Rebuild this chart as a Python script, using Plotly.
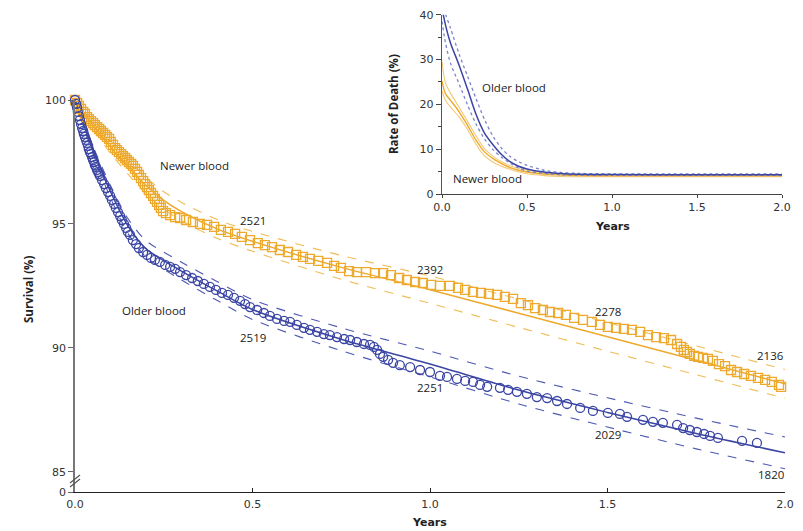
import plotly.graph_objects as go

# ---------------- Main chart: Kaplan-Meier survival ----------------
newer_km_years = [0, 0.006, 0.011, 0.017, 0.023, 0.028, 0.034, 0.039, 0.045, 0.051, 0.056, 0.062, 0.068, 0.073,
                  0.079, 0.085, 0.090, 0.096, 0.101, 0.107, 0.113, 0.118, 0.124, 0.130, 0.135, 0.141, 0.146, 0.152,
                  0.158, 0.163, 0.169, 0.175, 0.180, 0.186, 0.192, 0.197, 0.203, 0.208, 0.214, 0.220, 0.225, 0.231,
                  0.237, 0.242, 0.248, 0.256, 0.268, 0.282, 0.296, 0.313, 0.332, 0.352, 0.372, 0.392, 0.411, 0.431,
                  0.451, 0.470, 0.493, 0.515, 0.535, 0.555, 0.577, 0.600, 0.623, 0.642, 0.662, 0.685, 0.710, 0.730,
                  0.749, 0.772, 0.794, 0.820, 0.845, 0.868, 0.890, 0.913, 0.935, 0.958, 0.980, 1.003, 1.028, 1.056,
                  1.079, 1.099, 1.121, 1.144, 1.166, 1.189, 1.211, 1.234, 1.256, 1.276, 1.296, 1.318, 1.338, 1.361,
                  1.383, 1.406, 1.431, 1.456, 1.479, 1.501, 1.524, 1.546, 1.569, 1.592, 1.614, 1.637, 1.659, 1.679,
                  1.696, 1.707, 1.715, 1.724, 1.732, 1.744, 1.755, 1.769, 1.783, 1.797, 1.814, 1.831, 1.848, 1.865,
                  1.885, 1.904, 1.924, 1.944, 1.963, 1.983, 1.989]
newer_km_surv = [100, 99.88, 99.76, 99.64, 99.52, 99.44, 99.31, 99.23, 99.15, 99.07, 98.99, 98.91, 98.83, 98.75,
                 98.67, 98.59, 98.51, 98.43, 98.31, 98.19, 98.06, 97.98, 97.90, 97.82, 97.74, 97.66, 97.58, 97.50,
                 97.42, 97.34, 97.22, 97.10, 96.98, 96.85, 96.73, 96.61, 96.49, 96.37, 96.25, 96.13, 96.01, 95.89,
                 95.77, 95.65, 95.52, 95.44, 95.36, 95.28, 95.24, 95.16, 95.08, 95.00, 94.96, 94.88, 94.76, 94.68,
                 94.60, 94.48, 94.35, 94.23, 94.15, 94.07, 93.95, 93.87, 93.75, 93.67, 93.59, 93.51, 93.43, 93.31,
                 93.23, 93.10, 93.06, 93.06, 93.02, 93.02, 92.94, 92.82, 92.74, 92.66, 92.62, 92.54, 92.50, 92.50,
                 92.42, 92.34, 92.26, 92.22, 92.18, 92.14, 92.06, 91.98, 91.81, 91.73, 91.61, 91.53, 91.45, 91.41,
                 91.33, 91.21, 91.13, 91.05, 90.93, 90.85, 90.81, 90.77, 90.73, 90.65, 90.52, 90.44, 90.40, 90.32,
                 90.16, 90.04, 89.92, 89.84, 89.76, 89.68, 89.64, 89.60, 89.56, 89.48, 89.35, 89.27, 89.11, 89.03,
                 88.95, 88.87, 88.79, 88.71, 88.63, 88.51, 88.43]

older_km_years = [0, 0.003, 0.006, 0.008, 0.011, 0.014, 0.017, 0.020, 0.023, 0.025, 0.028, 0.031, 0.034, 0.037,
                  0.039, 0.042, 0.045, 0.048, 0.051, 0.054, 0.056, 0.059, 0.062, 0.065, 0.068, 0.070, 0.076, 0.082,
                  0.087, 0.093, 0.099, 0.104, 0.110, 0.115, 0.121, 0.127, 0.132, 0.138, 0.144, 0.149, 0.155, 0.163,
                  0.172, 0.180, 0.192, 0.203, 0.214, 0.225, 0.239, 0.254, 0.268, 0.282, 0.296, 0.313, 0.330, 0.346,
                  0.363, 0.380, 0.397, 0.414, 0.431, 0.448, 0.465, 0.479, 0.493, 0.513, 0.532, 0.549, 0.569, 0.589,
                  0.606, 0.625, 0.645, 0.662, 0.682, 0.701, 0.718, 0.738, 0.758, 0.775, 0.794, 0.814, 0.831, 0.842,
                  0.851, 0.859, 0.868, 0.882, 0.896, 0.915, 0.944, 0.972, 1.000, 1.028, 1.048, 1.076, 1.099, 1.121,
                  1.141, 1.161, 1.197, 1.220, 1.245, 1.273, 1.301, 1.330, 1.358, 1.386, 1.423, 1.459, 1.501, 1.535,
                  1.555, 1.600, 1.628, 1.656, 1.696, 1.713, 1.732, 1.752, 1.772, 1.789, 1.811, 1.879, 1.921]
older_km_surv = [100, 99.84, 99.68, 99.52, 99.35, 99.19, 99.03, 98.87, 98.75, 98.63, 98.51, 98.39, 98.27, 98.15,
                 98.02, 97.90, 97.82, 97.70, 97.58, 97.50, 97.38, 97.30, 97.18, 97.10, 97.02, 96.94, 96.77, 96.61,
                 96.45, 96.29, 96.13, 95.97, 95.81, 95.65, 95.48, 95.32, 95.16, 95.00, 94.84, 94.68, 94.56, 94.35,
                 94.19, 94.03, 93.87, 93.75, 93.63, 93.55, 93.47, 93.35, 93.27, 93.19, 93.06, 92.94, 92.82, 92.70,
                 92.58, 92.46, 92.34, 92.22, 92.14, 92.02, 91.90, 91.77, 91.65, 91.53, 91.41, 91.29, 91.17, 91.09,
                 91.05, 90.93, 90.81, 90.73, 90.65, 90.56, 90.52, 90.44, 90.36, 90.32, 90.24, 90.16, 90.12, 90.04,
                 89.92, 89.76, 89.64, 89.52, 89.40, 89.31, 89.23, 89.11, 89.03, 88.87, 88.83, 88.75, 88.67, 88.63,
                 88.51, 88.43, 88.39, 88.31, 88.23, 88.15, 88.02, 87.98, 87.86, 87.74, 87.58, 87.46, 87.38, 87.34,
                 87.22, 87.10, 87.02, 86.98, 86.90, 86.77, 86.69, 86.61, 86.53, 86.45, 86.37, 86.25, 86.17]

# Modelled survival with confidence bands
newer_fit_years = [0, 0.05, 0.1, 0.15, 0.2, 0.25, 0.3, 0.4, 0.5, 0.75, 1.0, 1.25, 1.5, 1.75, 2.0]
newer_fit = [100, 99.0, 98.1, 97.3, 96.55, 95.95, 95.5, 94.8, 94.3, 93.25, 92.35, 91.4, 90.45, 89.5, 88.55]
newer_fit_upper = [100, 99.15, 98.35, 97.6, 96.88, 96.3, 95.87, 95.18, 94.7, 93.73, 92.9, 91.97, 91.03, 90.08, 89.13]
newer_fit_lower = [100, 98.85, 97.85, 97.0, 96.22, 95.6, 95.13, 94.42, 93.9, 92.77, 91.8, 90.83, 89.87, 88.92, 87.97]

older_fit_years = [0, 0.05, 0.1, 0.15, 0.2, 0.3, 0.4, 0.5, 0.75, 1.0, 1.25, 1.5, 1.75, 2.0]
older_fit = [100, 98.0, 96.3, 94.9, 94.0, 93.1, 92.3, 91.55, 90.35, 89.35, 88.3, 87.4, 86.55, 85.77]
older_fit_upper = [100, 98.15, 96.55, 95.2, 94.33, 93.46, 92.68, 91.95, 90.81, 89.87, 88.86, 87.99, 87.17, 86.41]
older_fit_lower = [100, 97.85, 96.05, 94.6, 93.67, 92.74, 91.92, 91.15, 89.89, 88.83, 87.74, 86.81, 85.93, 85.13]

# Numbers at risk
risk_years = [0.5, 1.0, 1.5, 1.96]
newer_at_risk = ["2521", "2392", "2278", "2136"]
older_at_risk = ["2519", "2251", "2029", "1820"]
newer_risk_y = [95.16, 93.15, 91.45, 89.68]
older_risk_y = [90.44, 88.39, 86.49, 84.88]

main_x_ticks = [0, 0.5, 1.0, 1.5, 2.0]
main_x_ticktext = ["0.0", "0.5", "1.0", "1.5", "2.0"]
main_y_ticks = [84.19, 85, 90, 95, 100]
main_y_ticktext = ["0", "85", "90", "95", "100"]

# ---------------- Inset: rate of death ----------------
inset_years = [0, 0.02, 0.05, 0.1, 0.15, 0.2, 0.25, 0.3, 0.35, 0.4, 0.45, 0.5, 0.6, 0.7, 0.8, 1.0, 1.5, 2.0]
older_rate = [41.5, 37.8, 33.7, 28.8, 23.4, 17.8, 13.6, 11.0, 8.8, 7.2, 6.2, 5.6, 4.9, 4.55, 4.4, 4.35, 4.3, 4.3]
older_rate_upper = [44, 40.3, 37.0, 31.3, 26.3, 21.3, 16.6, 12.9, 10.2, 8.4, 7.2, 6.4, 5.3, 4.8, 4.6, 4.5, 4.5, 4.5]
older_rate_lower = [38.5, 33.8, 29.2, 24.6, 19.9, 15.6, 12.3, 9.9, 8.2, 6.9, 5.8, 5.1, 4.6, 4.3, 4.2, 4.15, 4.15, 4.15]
newer_rate = [25.2, 22.4, 20.9, 18.4, 15.3, 12.0, 9.4, 7.9, 6.8, 5.9, 5.3, 4.9, 4.45, 4.2, 4.1, 4.05, 4.05, 4.05]
newer_rate_upper = [29.5, 24.8, 22.5, 19.4, 16.2, 13.0, 10.1, 8.4, 7.2, 6.3, 5.7, 5.3, 4.8, 4.5, 4.35, 4.3, 4.3, 4.3]
newer_rate_lower = [23.0, 20.9, 19.4, 17.2, 14.4, 11.1, 8.5, 7.1, 6.2, 5.5, 4.9, 4.5, 4.1, 3.9, 3.85, 3.85, 3.85, 3.85]

ORANGE = "#EDAA2E"
ORANGE_D = "#F0BC55"
ORANGE_L = "#F3C875"
BLUE = "#3B45A3"
BLUE_D = "#4D58B3"
BLUE_L = "#7A84C8"

TICK_FONT = dict(family="DejaVu Sans", size=11, color="#333")
LBL_FONT = "Open Sans"
NARROW = "Liberation Sans Narrow, Open Sans"

fig = go.Figure()

def line(x, y, color, dash="solid", width=1.2, xa="x", ya="y"):
    fig.add_trace(go.Scatter(x=x, y=y, mode="lines", xaxis=xa, yaxis=ya,
                             line=dict(color=color, width=width, dash=dash, shape="spline", smoothing=0.8),
                             hoverinfo="skip"))

# main fits
line(newer_fit_years, newer_fit_upper, ORANGE_D, dash="dash", width=1.1)
line(newer_fit_years, newer_fit_lower, ORANGE_D, dash="dash", width=1.1)
line(newer_fit_years, newer_fit, ORANGE, width=1.5)
line(older_fit_years, older_fit_upper, BLUE_D, dash="dash", width=1.1)
line(older_fit_years, older_fit_lower, BLUE_D, dash="dash", width=1.1)
line(older_fit_years, older_fit, BLUE, width=1.5)

# KM markers
fig.add_trace(go.Scatter(x=newer_km_years, y=newer_km_surv, mode="markers", cliponaxis=False,
                         marker=dict(symbol="square-open", size=9, color=ORANGE, line=dict(width=1.3, color=ORANGE))))
fig.add_trace(go.Scatter(x=older_km_years, y=older_km_surv, mode="markers", cliponaxis=False,
                         marker=dict(symbol="circle-open", size=9, color=BLUE, line=dict(width=1.3, color=BLUE))))

# inset
line(inset_years, newer_rate_upper, ORANGE_L, width=1.1, xa="x2", ya="y2")
line(inset_years, newer_rate_lower, ORANGE_L, width=1.1, xa="x2", ya="y2")
line(inset_years, newer_rate, ORANGE, width=1.4, xa="x2", ya="y2")
line(inset_years, older_rate_upper, BLUE_L, dash="dot", width=1.3, xa="x2", ya="y2")
line(inset_years, older_rate_lower, BLUE_L, dash="dot", width=1.3, xa="x2", ya="y2")
line(inset_years, older_rate, BLUE, width=1.5, xa="x2", ya="y2")

def note(x, y, text, xref="x", yref="y", family=LBL_FONT, size=11.5, angle=0):
    return dict(x=x, y=y, xref=xref, yref=yref, text=text, showarrow=False, xanchor="center",
                yanchor="middle", textangle=angle, font=dict(family=family, size=size, color="#222"))

annotations = []
for i in range(len(risk_years)):
    annotations.append(note(risk_years[i], newer_risk_y[i], newer_at_risk[i]))
    annotations.append(note(risk_years[i], older_risk_y[i], older_at_risk[i]))

annotations += [
    note(0.338, 97.34, "Newer blood"),
    note(0.223, 91.53, "Older blood"),
    note(0.424, 23.8, "Older blood", "x2", "y2"),
    note(0.27, 3.4, "Newer blood", "x2", "y2"),
    # axis titles
    note(429 / 803, 1 - 522 / 531, "<b>Years</b>", "paper", "paper", "DejaVu Sans", 11),
    note(612 / 803, 1 - 226 / 531, "<b>Years</b>", "paper", "paper", "DejaVu Sans", 11),
    note(28 / 803, 1 - 290 / 531, "<b>Survival (%)</b>", "paper", "paper", NARROW, 11.5, -90),
    note(393 / 803, 1 - 104 / 531, "<b>Rate of Death (%)</b>", "paper", "paper", NARROW, 11.5, -90),
]

shapes = [
    dict(type="line", xref="paper", yref="paper", x0=70 / 803, y0=1 - 483 / 531, x1=80 / 803, y1=1 - 475 / 531,
         line=dict(color="#555", width=1.2)),
    dict(type="line", xref="paper", yref="paper", x0=70 / 803, y0=1 - 487 / 531, x1=80 / 803, y1=1 - 479 / 531,
         line=dict(color="#555", width=1.2)),
]

fig.update_layout(
    width=803, height=531, margin=dict(l=0, r=0, t=0, b=0, autoexpand=False),
    plot_bgcolor="white", paper_bgcolor="white", showlegend=False,
    annotations=annotations, shapes=shapes,
    xaxis=dict(domain=[75 / 803, 785 / 803], range=[0, 2.0], tickvals=main_x_ticks, ticktext=main_x_ticktext,
               ticks="inside", ticklen=4, tickcolor="#222", showline=True, linecolor="#222", linewidth=1.3,
               showgrid=False, zeroline=False, tickfont=TICK_FONT, ticklabelstandoff=2, anchor="y",
               automargin=False),
    yaxis=dict(domain=[1 - 492 / 531, 1 - 100 / 531], range=[84.19, 100], tickvals=main_y_ticks,
               ticktext=main_y_ticktext, ticks="outside", ticklen=5, tickcolor="#666", showline=True,
               linecolor="#777", linewidth=1.6, showgrid=False, zeroline=False, tickfont=TICK_FONT, anchor="x",
               automargin=False),
    xaxis2=dict(domain=[442 / 803, 782 / 803], range=[0, 2.0], tickvals=main_x_ticks, ticktext=main_x_ticktext,
                ticks="outside", ticklen=3, tickcolor="#444", showline=True, linecolor="#444", linewidth=1.3,
                showgrid=False, zeroline=False, tickfont=TICK_FONT, anchor="y2", automargin=False),
    yaxis2=dict(domain=[1 - 194 / 531, 1 - 14.7 / 531], range=[0, 40], tickvals=[0, 10, 20, 30, 40],
                ticks="outside", ticklen=5, tickcolor="#444", showline=True, linecolor="#555", linewidth=1.4,
                minor=dict(tickvals=[5, 15, 25, 35], ticks="outside", ticklen=3, tickcolor="#444"),
                showgrid=False, zeroline=False, tickfont=TICK_FONT, anchor="x2", automargin=False),
)

fig.write_html("out.html", config={"displayModeBar": False},
               post_script="document.body.style.margin='0';document.body.style.overflow='hidden';")
